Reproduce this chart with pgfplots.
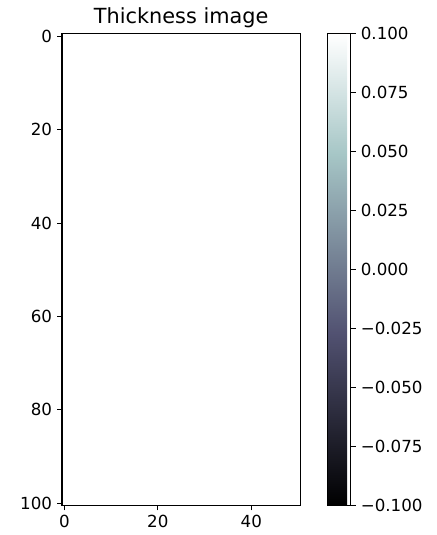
\documentclass[border=0pt]{standalone}
\usepackage{fontspec}
\setmainfont{DejaVu Sans}
\usepackage{pgfplots}
\pgfplotsset{compat=1.18}
\pgfplotsset{
  colormap={bone}{rgb(0)=(0,0,0) rgb(365)=(0.319444,0.319444,0.444444) rgb(746)=(0.652778,0.777778,0.777778) rgb(1000)=(1,1,1)}
}
\begin{document}
\begin{tikzpicture}
\begin{axis}[
  scale only axis,
  width=171.6pt, height=339.6pt,
  xmin=-0.5, xmax=50.5, ymin=-0.5, ymax=100.5,
  y dir=reverse,
  xtick={0,20,40}, ytick={0,20,40,60,80,100},
  xtick pos=left, ytick pos=left,
  tick align=outside, major tick length=3.5pt,
  minor tick num=0,
  axis line style={line width=0.8pt},
  tick style={black, line width=0.8pt},
  ticklabel style={font=\fontsize{12}{14}\selectfont},
  xticklabel style={inner sep=0pt, yshift=-3.5pt},
  yticklabel style={inner sep=0pt, xshift=-3.5pt},
  /pgf/number format/assume math mode=true,
  title={Thickness image},
  title style={font=\fontsize{15}{18}\selectfont, at={(0.5,1)}, anchor=base, yshift=1.4pt, inner sep=0pt},
  colormap name=bone,
  point meta min=-0.1, point meta max=0.1,
  colorbar,
  colorbar style={
    at={(parent axis.south east)}, anchor=south west, xshift=11pt,
    scale only axis, width=16.85pt, height=339.6pt,
    ymin=-0.1, ymax=0.1,
    ytick={-0.1,-0.075,-0.05,-0.025,0,0.025,0.05,0.075,0.1},
    yticklabels={−0.100,−0.075,−0.050,−0.025,0.000,0.025,0.050,0.075,0.100},
    ytick pos=right, yticklabel pos=right,
    tick align=outside, major tick length=3.5pt,
    axis line style={line width=0.8pt},
    tick style={black, line width=0.8pt},
    yticklabel style={font=\fontsize{12}{14}\selectfont, inner sep=0pt, xshift=3.5pt, anchor=west},
  },
]
\addplot[draw=none, mark=none, forget plot] coordinates {(0,0)};
\end{axis}
\path[use as bounding box] (-44.64pt,-21.17pt) rectangle (269.28pt,364.03pt);
\end{tikzpicture}
\end{document}
